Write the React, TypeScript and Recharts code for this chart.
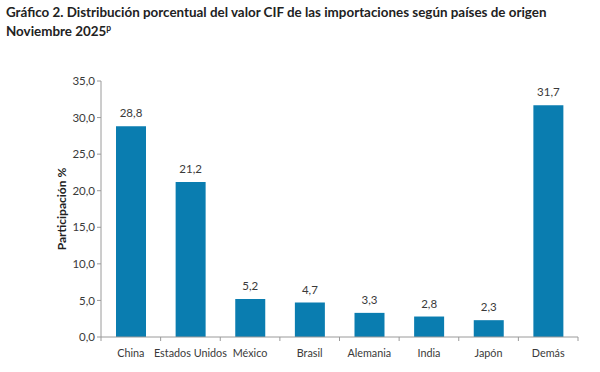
import React from 'react';
import { BarChart, Bar, XAxis, YAxis, LabelList } from 'recharts';

const countries = ['China', 'Estados Unidos', 'México', 'Brasil', 'Alemania', 'India', 'Japón', 'Demás'];
const shares = [28.8, 21.2, 5.2, 4.7, 3.3, 2.8, 2.3, 31.7];
const yTicks = [0, 5, 10, 15, 20, 25, 30, 35];

const data = countries.map((name, i) => ({ name, value: shares[i] }));

const BAR_COLOR = '#0a7db0';
const TEXT = '#3a3a3a';
const AXIS = '#9a9a9a';
const FONT = 'Lato, "Open Sans", sans-serif';

const fmt = (v: number) => v.toFixed(1).replace('.', ',');

const W = 600;
const H = 372;
const LEFT = 101;
const RIGHT = 22;
const BAND = (W - LEFT - RIGHT) / countries.length;

const XTick = (props: any) => {
  const { x, y, payload, index } = props;
  const isLast = index === countries.length - 1;
  return (
    <g>
      <line x1={x - BAND / 2} x2={x - BAND / 2} y1={y - 8} y2={y - 4} stroke={AXIS} />
      {isLast && <line x1={x + BAND / 2} x2={x + BAND / 2} y1={y - 8} y2={y - 4} stroke={AXIS} />}
      <text x={x} y={y + 12} textAnchor="middle" fontSize={10.8} fill={TEXT} fontFamily={FONT}>
        {payload.value}
      </text>
    </g>
  );
};

export default function App() {
  return (
    <div style={{ position: 'absolute', left: 0, top: 0, width: W, height: H, background: '#fff' }}>
      <div
        style={{
          position: 'absolute',
          left: 6,
          top: 3,
          fontFamily: FONT,
          fontWeight: 700,
          fontSize: 13.4,
          lineHeight: '19px',
          color: '#222',
        }}
      >
        Gráfico 2. Distribución porcentual del valor CIF de las importaciones según países de origen
        <br />
        Noviembre 2025<sup style={{ fontSize: 8.5, verticalAlign: 'top', position: 'relative', top: -3 }}>p</sup>
      </div>
      <BarChart
        width={W}
        height={H}
        data={data}
        margin={{ top: 81, right: RIGHT, bottom: 5, left: 0 }}
        barCategoryGap="50%"
      >
        <XAxis
          dataKey="name"
          interval={0}
          height={30}
          stroke={AXIS}
          tickLine={false}
          tick={<XTick />}
        />
        <YAxis
          width={LEFT}
          domain={[0, 35]}
          ticks={yTicks}
          interval={0}
          tickFormatter={fmt}
          stroke={AXIS}
          tickSize={4}
          tick={{ fill: TEXT, fontSize: 11.5, fontFamily: FONT }}
          label={{
            value: 'Participación %',
            angle: -90,
            position: 'center',
            dx: 11,
            style: { fill: '#222', fontWeight: 700, fontSize: 12, fontFamily: FONT },
          }}
        />
        <Bar dataKey="value" fill={BAR_COLOR} barSize={30} isAnimationActive={false}>
          <LabelList
            dataKey="value"
            position="top"
            offset={9}
            formatter={(v: any) => fmt(Number(v))}
            style={{ fill: TEXT, fontSize: 11.5, fontFamily: FONT }}
          />
        </Bar>
      </BarChart>
    </div>
  );
}
